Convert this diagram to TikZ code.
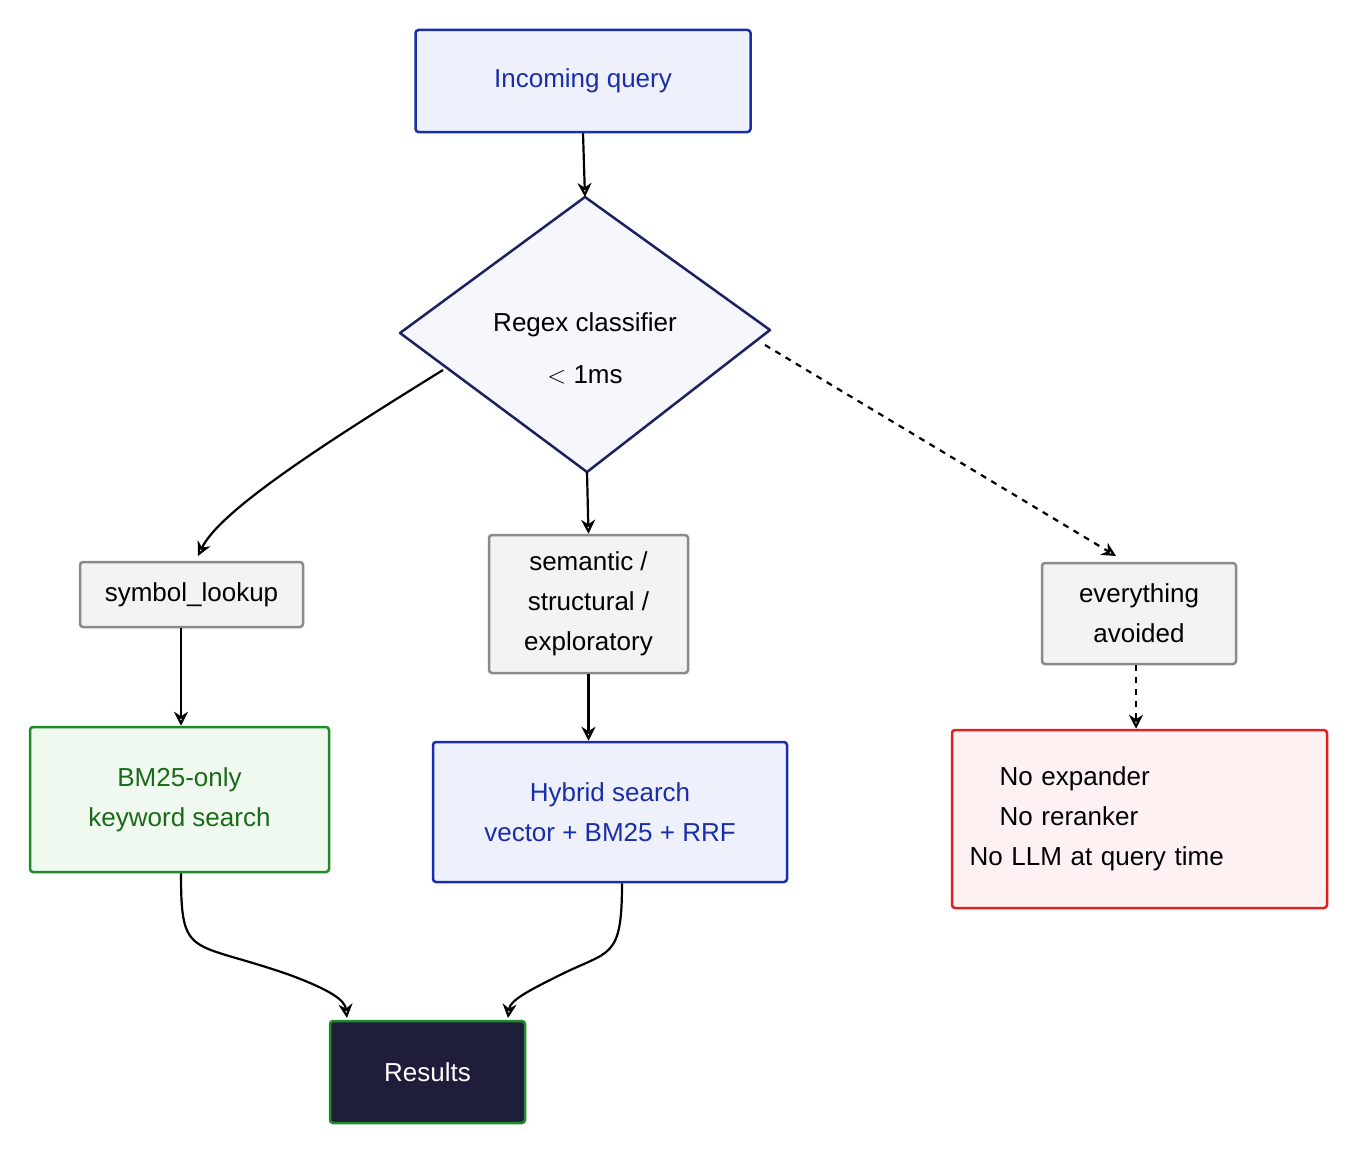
\documentclass[tikz,border=0pt]{standalone}
\usepackage{fontspec}
\setmainfont{Liberation Sans}
\usetikzlibrary{arrows.meta}
\definecolor{qblue}{HTML}{1A2EA8}
\definecolor{qbluefill}{HTML}{EEF1FC}
\definecolor{qgray}{HTML}{8A8A8A}
\definecolor{qgrayfill}{HTML}{F3F3F3}
\definecolor{qgreen}{HTML}{1E8A2A}
\definecolor{qgreenfill}{HTML}{EFF9EF}
\definecolor{qgreentext}{HTML}{1A6A1A}
\definecolor{qred}{HTML}{E02020}
\definecolor{qredfill}{HTML}{FDF1F1}
\definecolor{qdark}{HTML}{1E1E3A}
\definecolor{qnavy}{HTML}{1C2260}
\tikzset{
  box/.style={draw, line width=2.5pt, rounded corners=3pt, align=center, inner sep=0pt, font=\fontsize{26}{40}\selectfont},
  bluebox/.style={box, draw=qblue, fill=qbluefill, text=qblue},
  graybox/.style={box, draw=qgray, fill=qgrayfill, text=black},
  greenbox/.style={box, draw=qgreen, fill=qgreenfill, text=qgreentext},
  redbox/.style={box, draw=qred, fill=qredfill, text=black},
  conn/.style={draw, line width=2.2pt, -{Stealth[length=14pt,width=14pt,open]}},
}
\begin{document}
\begin{tikzpicture}[x=1pt,y=-1pt]
\useasboundingbox (0,0) rectangle (1361,1156);
\node[bluebox, minimum width=335, minimum height=102] (q) at (583,81) {Incoming query};
\coordinate (dt) at (585,197);
\coordinate (dl) at (400,333);
\coordinate (dr) at (770,330);
\coordinate (db) at (587,472);
\filldraw[draw=qnavy, fill=qbluefill!60, line width=2.5pt, line join=round] (dt) -- (dr) -- (db) -- (dl) -- cycle;
\node[align=center, font=\fontsize{26}{52}\selectfont] (d) at (585,348) {Regex classifier\\$<$ 1ms};
\coordinate (dll) at (443,370);
\coordinate (drr) at (765,345);
\node[graybox, minimum width=223, minimum height=65] (s) at (191.5,594.5) {symbol\_lookup};
\node[graybox, minimum width=199, minimum height=138] (m) at (588.5,604) {semantic /\\structural /\\exploratory};
\node[graybox, minimum width=194, minimum height=101] (e) at (1139,613.5) {everything\\avoided};
\node[greenbox, minimum width=299, minimum height=145] (b) at (179.5,799.5) {BM25-only\\keyword search};
\node[bluebox, minimum width=354, minimum height=140] (h) at (610,812) {Hybrid search\\vector + BM25 + RRF};
\node[redbox, minimum width=375, minimum height=178, text width=340, align=left] (n) at (1139.5,819) {\hspace*{30pt}No expander\\\hspace*{30pt}No reranker\\No LLM at query time};
\node[box, draw=qgreen, fill=qdark, text=white, minimum width=195, minimum height=102] (r) at (427.5,1072) {Results};
\path[conn] (q.south) -- (dt);
\path[conn] (dll) .. controls (330,440) and (220,510) .. (198,556);
\path[conn] (db) -- (m.north);
\path[conn, dashed, dash pattern=on 6pt off 6pt] (drr) -- (1116,556);
\path[conn] (s.south -| 181,0) -- (b.north -| 181,0);
\path[conn] (m.south) -- (h.north -| m.south);
\path[conn, dashed, dash pattern=on 6pt off 6pt] (e.south -| 1136,0) -- (n.north -| 1136,0);
\path[conn] (b.south -| 181,0) .. controls (181,960) and (190,940) .. (290,975) .. controls (330,990) and (345,1000) .. (347,1018);
\path[conn] (h.south -| 622,0) .. controls (622,960) and (610,950) .. (560,975) .. controls (530,990) and (510,1000) .. (508,1018);
\end{tikzpicture}
\end{document}
